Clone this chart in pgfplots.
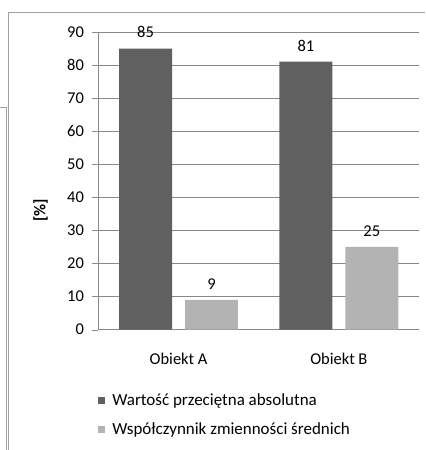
\documentclass[border=0pt]{standalone}
\usepackage{fontspec}
\setmainfont{Carlito}
\usepackage{pgfplots}
\pgfplotsset{compat=1.18}

\definecolor{darkbar}{RGB}{96,96,96}
\definecolor{lightbar}{RGB}{179,179,179}
\definecolor{gridgray}{RGB}{136,136,136}
\definecolor{framegray}{RGB}{160,160,160}

\begin{document}
\begin{tikzpicture}[x=1pt,y=1pt]
% page size = reference size
\path (0,0) rectangle (425,450);
% frame remnants of the original sheet
\draw[framegray,line width=1pt] (8,437) -- (425,437);
\draw[framegray,line width=1pt] (8,437) -- (8,0);
\draw[framegray,line width=1pt] (0,342) -- (6,342) -- (6,0);

\begin{axis}[
  at={(98pt,120pt)}, anchor=south west,
  scale only axis, width=321pt, height=298pt,
  xmin=0, xmax=2, ymin=0, ymax=90,
  axis x line=bottom, axis y line=left,
  axis line style={gridgray,-},
  xtick={0.5,1.5}, xticklabels={Obiekt A,Obiekt B},
  xtick style={draw=none},
  xticklabel style={yshift=-14pt},
  ytick={0,10,...,90},
  ytick style={gridgray},
  tick align=outside, major tick length=6pt,
  yticklabel style={xshift=-5pt},
  ymajorgrids, grid style={gridgray,line width=0.6pt},
  tick label style={font=\fontsize{16.5}{19}\selectfont},
  /pgf/number format/assume math mode=true,
  ylabel={\textbf{[\%]}},
  ylabel style={font=\fontsize{16.5}{19}\selectfont, at={(axis description cs:-0.18,0.4)}, anchor=center},
  ybar, bar width=53pt,
  nodes near coords,
  every node near coord/.append style={font=\fontsize{16.5}{19}\selectfont, yshift=7pt},
  legend style={at={(axis description cs:-0.01,-0.2)}, anchor=north west, draw=none,
    font=\fontsize{17}{20}\selectfont, row sep=12pt, cells={anchor=west},
    /tikz/every odd column/.append style={column sep=5pt}},
  legend image code/.code={\fill[#1] (0pt,-3.5pt) rectangle (7pt,3.5pt);},
]
\addplot[fill=darkbar, draw=none, bar shift=-33pt] coordinates {(0.5,85) (1.5,81)};
\addplot[fill=lightbar, draw=none, bar shift=33pt] coordinates {(0.5,9) (1.5,25)};
\legend{Wartość przeciętna absolutna, Współczynnik zmienności średnich}
\end{axis}
\end{tikzpicture}
\end{document}
